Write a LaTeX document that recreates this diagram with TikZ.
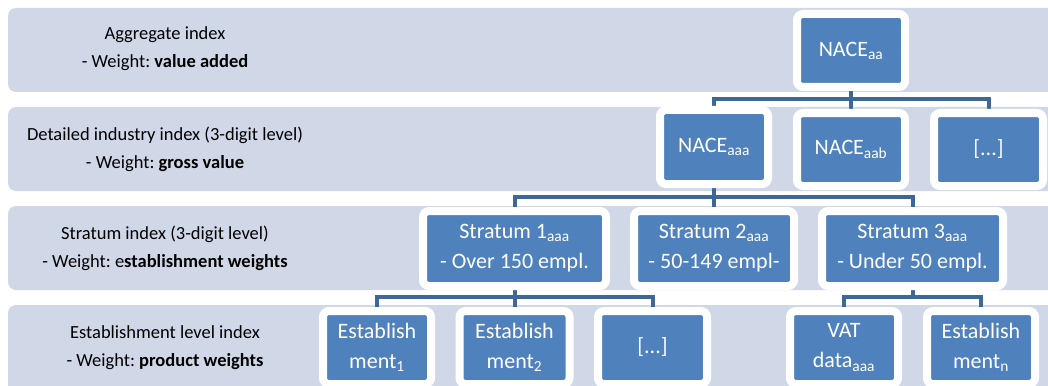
\documentclass[tikz,border=0pt]{standalone}
\usepackage{fontspec}
\setmainfont{Carlito}
\frenchspacing
\pgfdeclarelayer{bands}
\pgfdeclarelayer{bg}
\pgfsetlayers{bands,bg,main}
\definecolor{bandcol}{RGB}{208,216,232}
\definecolor{boxcol}{RGB}{79,129,189}
\definecolor{conncol}{RGB}{62,103,153}
\tikzset{
  band/.style={fill=bandcol, draw=none, rounded corners=8pt},
  lbl/.style={align=center, font=\fontsize{18.5pt}{28pt}\selectfont\frenchspacing, text=black, inner sep=0pt},
  box/.style={fill=boxcol, draw=white, line width=8pt, rounded corners=6pt, text=white,
    align=center, font=\fontsize{22pt}{30pt}\selectfont\frenchspacing, inner sep=0pt},
  conn/.style={draw=conncol, line width=4pt},
}
\begin{document}
\begin{tikzpicture}[x=1pt,y=-1pt]
\useasboundingbox (0,0) rectangle (1048,385);
\clip (0,0) rectangle (1048,385);
% nodes (sizes = inner blue + 8)
\node[box, minimum width=108pt, minimum height=73pt] (aa) at (851,50.5) {NACE\textsubscript{aa}};
\node[box, minimum width=108pt, minimum height=74pt] (aaa) at (714,147) {NACE\textsubscript{aaa}};
\node[box, minimum width=108pt, minimum height=73pt] (aab) at (851,149.5) {NACE\textsubscript{aab}};
\node[box, minimum width=109pt, minimum height=73pt] (dots1) at (988.5,149.5) {[...]};
\node[box, minimum width=183pt, minimum height=75pt] (s1) at (514.5,248.5) {Stratum 1\textsubscript{aaa}\\- Over 150 empl.};
\node[box, minimum width=160pt, minimum height=75pt] (s2) at (714,248.5) {Stratum 2\textsubscript{aaa}\\- 50-149 empl-};
\node[box, minimum width=181pt, minimum height=75pt] (s3) at (912.5,248.5) {Stratum 3\textsubscript{aaa}\\- Under 50 empl.};
\node[box, minimum width=108pt, minimum height=73pt] (e1) at (377,347.5) {Establish\\ment\textsubscript{1}};
\node[box, minimum width=110pt, minimum height=73pt] (e2) at (514.5,347.5) {Establish\\ment\textsubscript{2}};
\node[box, minimum width=109pt, minimum height=73pt] (dots2) at (652.5,347.5) {[...]};
\node[box, minimum width=108pt, minimum height=73pt] (vat) at (844,347.5) {VAT\\data\textsubscript{aaa}};
\node[box, minimum width=108pt, minimum height=73pt] (en) at (981,347.5) {Establish\\ment\textsubscript{n}};
% left labels
\node[lbl] (l1) at (165,49) {Aggregate index\\- Weight: \textbf{value added}};
\node[lbl] (l2) at (165,149) {Detailed industry index (3-digit level)\\- Weight: \textbf{gross value}};
\node[lbl] (l3) at (165,248) {Stratum index (3-digit level)\\- Weight: e\textbf{stablishment weights}};
\node[lbl] (l4) at (165,347.5) {Establishment level index\\- Weight: \textbf{product weights}};
\coordinate (b1) at (851,99);
\coordinate (b2) at (714,197);
\coordinate (b3) at (514.5,297);
\coordinate (b4) at (912.5,297);
\begin{pgfonlayer}{bands}
  \fill[band] (8,8) rectangle (1070,92);
  \fill[band] (8,107) rectangle (1070,191);
  \fill[band] (8,206) rectangle (1070,290);
  \fill[band] (8,305) rectangle (1070,400);
\end{pgfonlayer}
\begin{pgfonlayer}{bg}
  \draw[conn] (aa.south) -- (aab.north);
  \draw[conn] (aaa.north) |- (b1) -| (dots1.north);
  \draw[conn] (aaa.south) -- (s2.north);
  \draw[conn] (s1.north) |- (b2) -| (s3.north);
  \draw[conn] (s1.south) -- (e2.north);
  \draw[conn] (e1.north) |- (b3) -| (dots2.north);
  \draw[conn] (s3.south) -- (b4);
  \draw[conn] (vat.north) |- (b4) -| (en.north);
\end{pgfonlayer}
\end{tikzpicture}
\end{document}
